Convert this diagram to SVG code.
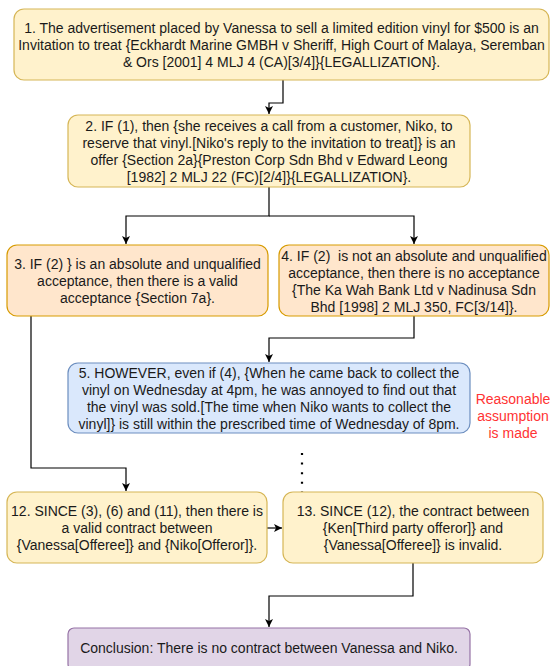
<svg xmlns="http://www.w3.org/2000/svg" width="551" height="666" viewBox="0 0 551 666">
<style>
.t{font-family:"Liberation Sans",Arial,Helvetica,sans-serif;font-size:14px;fill:#1a1a1a;text-anchor:middle;white-space:pre}
.r{fill:#ff3333}
.yel{fill:#fff2cc;stroke:#d6b656;stroke-width:1.2}
.org{fill:#ffe6cc;stroke:#d79b00;stroke-width:1.2}
.blu{fill:#dae8fc;stroke:#6c8ebf;stroke-width:1.2}
.pur{fill:#e1d5e7;stroke:#9673a6;stroke-width:1.2}
.e{fill:none;stroke:#000;stroke-width:1.2;marker-end:url(#a)}
</style>
<defs>
<marker id="a" markerUnits="userSpaceOnUse" markerWidth="10" markerHeight="10" refX="8" refY="4" orient="auto">
<path d="M0,0 L8,4 L0,8 L2,4 z" fill="#000"/>
</marker>
</defs>
<rect width="551" height="666" fill="#fff"/>
<g id="connectors">
<path class="e" d="M283,80 V103 H269 V114"/>
<path class="e" d="M269,187 V216 H126 V244"/>
<path class="e" d="M269,216 H414 V244"/>
<path class="e" d="M414,316 V338 H269 V362"/>
<path class="e" d="M31,316 V468 H126 V491"/>
<path class="e" d="M267,528 H282"/>
<path class="e" d="M413,563 V596 H269 V627"/>
<path d="M302,453 V494" fill="none" stroke="#000" stroke-width="2.2" stroke-dasharray="2 7.6"/>
</g>
<g id="n1">
<rect class="yel" x="14" y="9" width="535" height="71" rx="10"/>
<text class="t" x="281.5" y="32.5">1. The advertisement placed by Vanessa to sell a limited edition vinyl for $500 is an</text>
<text class="t" x="281.5" y="49.5">Invitation to treat {Eckhardt Marine GMBH v Sheriff, High Court of Malaya, Seremban</text>
<text class="t" x="281.5" y="66.5">&amp; Ors [2001] 4 MLJ 4 (CA)[3/4]}{LEGALLIZATION}.</text>
</g>
<g id="n2">
<rect class="yel" x="68" y="115" width="402" height="72" rx="10"/>
<text class="t" x="269" y="131">2. IF (1), then {she receives a call from a customer, Niko, to</text>
<text class="t" x="269" y="148">reserve that vinyl.[Niko's reply to the invitation to treat]} is an</text>
<text class="t" x="269" y="165">offer {Section 2a}{Preston Corp Sdn Bhd v Edward Leong</text>
<text class="t" x="269" y="182">[1982] 2 MLJ 22 (FC)[2/4]}{LEGALLIZATION}.</text>
</g>
<g id="n3">
<rect class="org" x="7" y="245" width="261" height="71" rx="10"/>
<text class="t" x="137.5" y="268.5">3. IF (2) } is an absolute and unqualified</text>
<text class="t" x="137.5" y="285.5">acceptance, then there is a valid</text>
<text class="t" x="137.5" y="302.5">acceptance {Section 7a}.</text>
</g>
<g id="n4">
<rect class="org" x="279" y="245" width="270" height="71" rx="10"/>
<text class="t" x="414" y="260.5">4. IF (2)  is not an absolute and unqualified</text>
<text class="t" x="414" y="277.5">acceptance, then there is no acceptance</text>
<text class="t" x="414" y="294.5">{The Ka Wah Bank Ltd v Nadinusa Sdn</text>
<text class="t" x="414" y="311.5">Bhd [1998] 2 MLJ 350, FC[3/14]}.</text>
</g>
<g id="n5">
<rect class="blu" x="68" y="363" width="402" height="70" rx="10"/>
<text class="t" x="269" y="378">5. HOWEVER, even if (4), {When he came back to collect the</text>
<text class="t" x="269" y="395">vinyl on Wednesday at 4pm, he was annoyed to find out that</text>
<text class="t" x="269" y="412">the vinyl was sold.[The time when Niko wants to collect the</text>
<text class="t" x="269" y="429">vinyl]} is still within the prescribed time of Wednesday of 8pm.</text>
</g>
<g id="note">
<text class="t r" x="513" y="404">Reasonable</text>
<text class="t r" x="513" y="421">assumption</text>
<text class="t r" x="513" y="438">is made</text>
</g>
<g id="n12">
<rect class="yel" x="7" y="492" width="260" height="71" rx="10"/>
<text class="t" x="137" y="516">12. SINCE (3), (6) and (11), then there is</text>
<text class="t" x="137" y="533">a valid contract between</text>
<text class="t" x="137" y="550">{Vanessa[Offeree]} and {Niko[Offeror]}.</text>
</g>
<g id="n13">
<rect class="yel" x="283" y="492" width="260" height="71" rx="10"/>
<text class="t" x="413" y="516">13. SINCE (12), the contract between</text>
<text class="t" x="413" y="533">{Ken[Third party offeror]} and</text>
<text class="t" x="413" y="550">{Vanessa[Offeree]} is invalid.</text>
</g>
<g id="conclusion">
<rect class="pur" x="68" y="628" width="402" height="42" rx="6"/>
<text class="t" x="269" y="653">Conclusion: There is no contract between Vanessa and Niko.</text>
</g>
</svg>
